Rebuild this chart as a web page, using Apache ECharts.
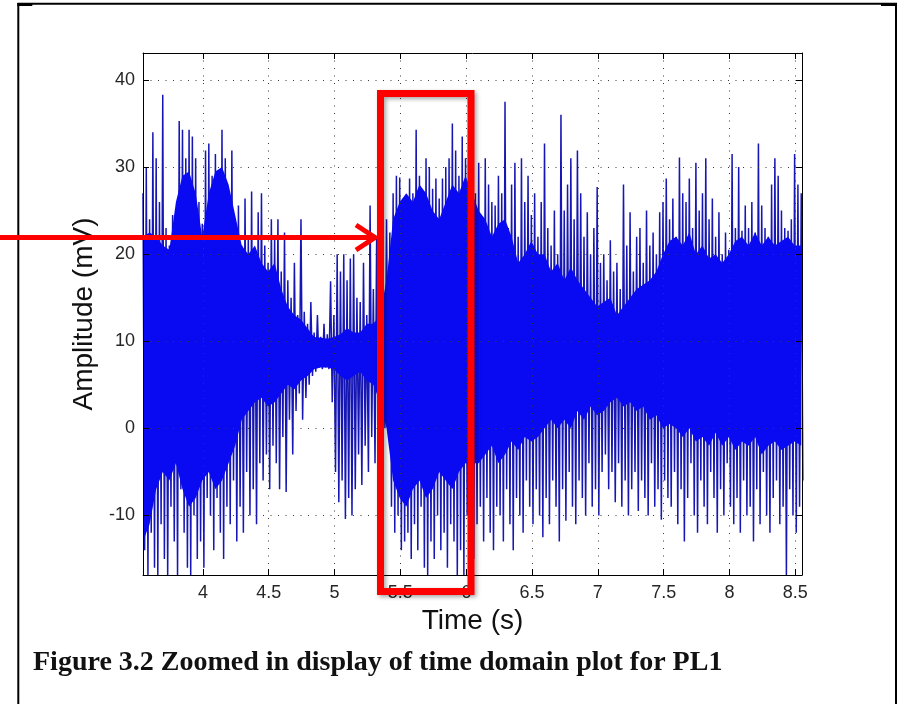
<!DOCTYPE html>
<html>
<head>
<meta charset="utf-8">
<title>Zoomed in display of time domain plot for PL1</title>
<script src="https://cdn.jsdelivr.net/npm/echarts@6/dist/echarts.min.js"></script>
<style>
  html, body { margin: 0; padding: 0; background: #ffffff; }
  #chart { width: 901px; height: 704px; }
</style>
</head>
<body>
<div id="chart"></div>
<script>
// ---- signal, reduced to per-bin extremes (mV) ----
const timeStart = 3.545;   // s, start of the first bin
const binWidth = 0.025;    // s, width of each bin

// highest sample in every bin
const peakHigh = [
  27, 30, 24, 34, 31, 26, 38.3, 23, 21, 24.5, 22, 35.3, 34.3, 31, 34.3, 33.5, 31, 26, 23.5, 31.9,
  32.7, 29, 31.5, 28, 34.3, 31, 27, 31.9, 24, 25.6, 21, 26.4, 22, 27.2, 20, 24.8, 27, 21, 19, 24,
  22, 24, 18, 22.5, 17, 15, 19, 13, 24, 13.4, 12, 14.5, 11, 13, 10.5, 12, 10.8, 16.9, 13, 20,
  18, 20, 17, 19.5, 20, 15, 14.5, 19, 13, 25.6, 16, 22, 21, 17, 24, 22.5, 27, 29, 28.8, 26,
  25, 28.7, 27, 34.3, 29, 26, 31, 30, 27.5, 28.7, 26.4, 28.7, 30, 31, 35, 31.9, 29, 33.5, 31, 37,
  36.9, 27, 30.5, 24, 31, 28, 26, 25.6, 29, 27, 37.5, 23, 28, 30.5, 22, 31, 26, 29, 24.5, 27,
  22, 26, 32.7, 23, 21, 25, 20, 36, 25, 28, 31, 24, 31.9, 27, 22, 24.8, 20, 23, 27.7, 19,
  20, 17, 21.6, 18, 19, 16, 28, 21, 24.8, 18, 22, 23, 19, 25, 21, 22.5, 20, 24.8, 26, 28.7,
  24, 26.4, 22, 31.1, 27, 26, 28.7, 23, 30.5, 25, 27, 31, 24, 26.4, 22, 24.8, 20, 22.5, 20.5, 31.5,
  23, 30, 22.7, 25.6, 23, 26, 22.5, 32.7, 25.6, 23, 22, 28, 31, 29, 25, 23, 22.7, 24, 31.5, 28,
  27
];

// lowest sample in every bin
const peakLow = [
  -14, -17, -12, -16, -17, -11, -15, -17, -9, -13, -17, -7, -12, -16, -17, -10, -15, -13, -16, -8,
  -10, -14, -8, -12, -15, -9, -11, -6, -13, -9, -12, -5, -10, -7, -11, -4, -6, -3, -7, -2,
  -4, -7, -1, -7.3, 1, -3, 2, 4, 1, 3.5, 5, 6, 6.5, 7, 6.8, 7, 6.8, 3, -5, -8.5,
  -6, -10.4, -8, -10, -7, -3, -6.5, -2, -5, -1, -4, -6, -3, 0, 0.5, -9, -12, -10, -14, -13,
  -12, -15, -11, -14, -9, -16, -17, -13, -15, -10, -14, -12, -16, -11, -13, -17, -14, -17, -10, -13,
  -15, -11, -9, -13, -8, -12, -14, -9, -10, -13, -7, -11, -14, -8, -10, -12, -6, -9, -11, -7,
  -10, -12.5, -8, -11, -6, -9, -13, -7, -10.6, -5, -9, -11, -6, -8, -10, -4, -9, -7, -10, -5,
  -3, -7, -5, -8.5, -4, -9, -6, -10, -7, -5, -9.5, -6, -8, -10, -4, -9, -7, -10.5, -6, -8,
  -9, -5, -11, -7, -13, -8, -4, -10, -12, -6, -9, -11, -5, -8, -12, -7, -10, -4, -9, -11,
  -8, -12, -6, -10, -9, -13, -7, -11, -5, -10, -12, -8, -6, -11, -9, -16.9, -7, -10, -12, -9,
  -6
];

// dense (solid) core of the signal, sampled every 0.05 s
const coreStart = 3.545;
const coreStep = 0.05;
const coreTop = [
  22, 22.5, 22, 21, 20.5, 26, 29, 29.5, 27, 22,
  27, 29.5, 30, 28, 24.5, 21, 20, 21, 19, 18,
  19, 16, 14, 13, 12.5, 11.5, 10.5, 10.4, 10.3, 10.5,
  10.8, 11.5, 11, 11, 12, 12, 13, 17, 24, 26,
  27, 26, 28, 27, 25, 24, 26, 28, 27, 29,
  27, 25, 24, 22, 23.5, 24, 22, 19, 20, 21.5,
  20, 20, 18, 19, 17, 18.5, 17, 16, 15, 14,
  14.5, 15, 13, 14, 15, 16, 16.5, 17, 18, 20,
  21.5, 22, 21, 22.5, 20, 21, 19.5, 20, 19, 20,
  21.5, 22, 21, 22.5, 21, 22, 21, 21.5, 22, 21,
  21
];
const coreBottom = [
  -13, -11, -7, -5, -6, -4, -7, -9, -8, -6,
  -5, -7, -6, -4, -2, 1, 2, 3, 3.5, 2.5,
  3, 4, 5, 4.5, 5.5, 6, 6.8, 7, 7, 6.8,
  6, 5.5, 6, 6.5, 5.5, 5, 3, 0, -6, -8,
  -9, -7, -6, -8, -7, -5, -6, -7, -5, -4,
  -4, -4, -3, -2, -4, -3, -1.5, -2.5, -1, -1.5,
  -1, 0, 1, 0, 1, 0, 2, 1, 2.5, 1.5,
  2, 3, 3.5, 2.5, 3, 2, 2.5, 1, 1.5, 0,
  0.5, 0, -1, 0, -1.5, -1, -2, -0.5, -2, -1,
  -2.5, -1.5, -2, -1, -3, -2, -1.5, -2.5, -2, -1.5,
  -2
];

// axis ranges and tick labels
const timeRange = [3.545, 8.551];
const ampRange = [-16.84, 43.1];
const timeTicks = [4, 4.5, 5, 5.5, 6, 6.5, 7, 7.5, 8, 8.5];
const ampTicks = [-10, 0, 10, 20, 30, 40];

// zig-zag through the bin extremes: high at the bin start, low half a bin later
const trace = [];
peakHigh.forEach((hi, i) => {
  const t = timeStart + i * binWidth;
  trace.push([t, hi]);
  trace.push([t + binWidth / 2, peakLow[i]]);
});

const FONT = '"Liberation Sans", Arial, Helvetica, sans-serif';
const tickLabel = (list) => (v) => {
  const hit = list.find((d) => Math.abs(d - v) < 1e-6);
  return hit === undefined ? '' : String(hit);
};

const gridDots = { show: true, lineStyle: { color: '#3a3a3a', width: 1, type: [1, 6.5] } };
const boxLine = { show: true, onZero: false, lineStyle: { color: '#000', width: 1 } };
const inTicks = { show: true, inside: true, length: 6, lineStyle: { color: '#000', width: 1 } };

const chart = echarts.init(document.getElementById('chart'), null, { renderer: 'canvas' });

chart.setOption({
  animation: false,
  backgroundColor: '#ffffff',
  grid: { left: 143, top: 53, width: 659, height: 522, show: false },
  xAxis: [
    {
      type: 'value', min: timeRange[0], max: timeRange[1], splitNumber: 10, z: 10,
      axisLine: boxLine, axisTick: inTicks, splitLine: gridDots,
      axisLabel: {
        show: true, margin: 9, fontSize: 18, color: '#262626', fontFamily: FONT,
        showMinLabel: false, showMaxLabel: false, formatter: tickLabel(timeTicks)
      },
      name: 'Time (s)', nameLocation: 'middle', nameGap: 31,
      nameTextStyle: { fontSize: 28, color: '#111', fontFamily: FONT }
    },
    {
      type: 'value', position: 'top', min: timeRange[0], max: timeRange[1], splitNumber: 10, z: 10,
      axisLine: boxLine, axisTick: inTicks, splitLine: { show: false }, axisLabel: { show: false }
    }
  ],
  yAxis: [
    {
      type: 'value', min: ampRange[0], max: ampRange[1], splitNumber: 6, z: 10,
      axisLine: boxLine, axisTick: inTicks, splitLine: gridDots,
      axisLabel: {
        show: true, margin: 8, fontSize: 18, color: '#262626', fontFamily: FONT,
        showMinLabel: false, showMaxLabel: false, formatter: tickLabel(ampTicks)
      },
      name: 'Amplitude (mV)', nameLocation: 'middle', nameGap: 42,
      nameTextStyle: { fontSize: 28, color: '#111', fontFamily: FONT }
    },
    {
      type: 'value', position: 'right', min: ampRange[0], max: ampRange[1], splitNumber: 6, z: 10,
      axisLine: boxLine, axisTick: inTicks, splitLine: { show: false }, axisLabel: { show: false }
    }
  ],
  series: [
    {
      name: 'PL1',
      type: 'line',
      xAxisIndex: 0, yAxisIndex: 0,
      data: trace,
      showSymbol: false, symbol: 'none',
      clip: true,
      silent: true,
      z: 2,
      lineStyle: { color: '#1616b4', width: 1.5 }
    },
    {
      name: 'core',
      type: 'custom',
      xAxisIndex: 0, yAxisIndex: 0,
      silent: true,
      z: 3,
      data: [[coreStart, coreTop[0]]],
      renderItem: (params, api) => {
        const pts = [];
        coreTop.forEach((v, k) => pts.push(api.coord([coreStart + k * coreStep, v])));
        for (let k = coreBottom.length - 1; k >= 0; k--) {
          pts.push(api.coord([coreStart + k * coreStep, coreBottom[k]]));
        }
        return { type: 'polygon', shape: { points: pts }, style: { fill: '#0a0af2' } };
      }
    }
  ],
  graphic: [
    // page frame
    {
      type: 'polyline', z: 50, silent: true,
      shape: { points: [[18.3, 704], [18.3, 3.8], [896, 3.8], [896, 704]] },
      style: { stroke: '#000', lineWidth: 2, fill: null }
    },
    { type: 'rect', z: 50, silent: true, shape: { x: 17.3, y: 3, width: 15, height: 3 }, style: { fill: '#000' } },
    { type: 'rect', z: 50, silent: true, shape: { x: 881, y: 3, width: 16, height: 3 }, style: { fill: '#000' } },
    // highlight box
    {
      type: 'rect', z: 60, silent: true,
      shape: { x: 380.5, y: 93.5, width: 90.5, height: 498 },
      style: {
        fill: null, stroke: '#ff0000', lineWidth: 7,
        shadowBlur: 4, shadowColor: 'rgba(0,0,0,0.35)', shadowOffsetX: 2, shadowOffsetY: 2
      }
    },
    // pointer arrow
    {
      type: 'line', z: 60, silent: true,
      shape: { x1: 0, y1: 237.5, x2: 373, y2: 237.5 },
      style: { stroke: '#ff0000', lineWidth: 5 }
    },
    {
      type: 'polyline', z: 60, silent: true,
      shape: { points: [[356, 225], [375, 237.5], [356, 250]] },
      style: { stroke: '#ff0000', lineWidth: 5, fill: null, lineJoin: 'miter' }
    },
    // caption
    {
      type: 'text', z: 60, silent: true,
      style: {
        x: 33, y: 662.5, text: 'Figure 3.2 Zoomed in display of time domain plot for PL1',
        font: 'bold 28px "Liberation Serif", "Times New Roman", serif',
        fill: '#111', verticalAlign: 'middle', align: 'left'
      }
    }
  ]
});
</script>
</body>
</html>
